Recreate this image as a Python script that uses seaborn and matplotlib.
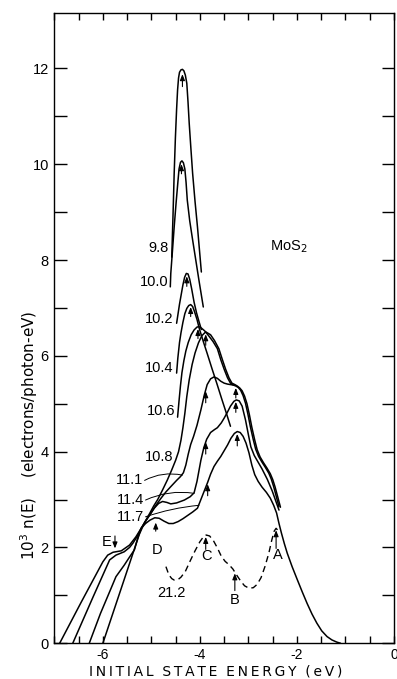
import matplotlib
matplotlib.use("Agg")
import matplotlib.pyplot as plt
from matplotlib.ticker import MultipleLocator, FixedLocator
import pandas as pd
import seaborn as sns

# Photoemission energy distributions of MoS2.
# Initial-state energy (eV) and yield 10^3 n(E) (electrons/photon-eV) for each photon energy.
e_98 = [-4.58, -4.555, -4.53, -4.505, -4.48, -4.46, -4.44, -4.42, -4.39, -4.36, -4.33, -4.30,
        -4.27, -4.245, -4.22, -4.185, -4.15, -4.10, -4.05, -4.01, -3.97]
n_98 = [8.06, 8.90, 9.81, 10.55, 11.15, 11.55, 11.80, 11.92, 11.97, 11.98, 11.95, 11.86,
        11.69, 11.30, 10.85, 10.32, 9.81, 9.22, 8.69, 8.22, 7.75]

e_100 = [-4.61, -4.60, -4.565, -4.53, -4.49, -4.45, -4.43, -4.40, -4.37, -4.34, -4.31, -4.285,
         -4.26, -4.21, -4.15, -4.085, -4.02, -3.975, -3.93]
n_100 = [7.44, 7.72, 8.20, 8.69, 9.20, 9.67, 9.90, 10.04, 10.07, 10.03, 9.90, 9.62,
         9.25, 8.82, 8.42, 8.00, 7.58, 7.30, 7.02]

e_102 = [-4.48, -4.45, -4.42, -4.385, -4.35, -4.315, -4.28, -4.245, -4.21, -4.17, -4.12, -4.07,
         -4.02, -3.97]
n_102 = [6.68, 6.88, 7.08, 7.28, 7.48, 7.64, 7.72, 7.71, 7.60, 7.40, 7.12, 6.90, 6.72, 6.55]

e_104 = [-4.48, -4.455, -4.42, -4.39, -4.35, -4.31, -4.27, -4.23, -4.19, -4.15, -4.11, -4.06,
         -4.01, -3.93, -3.85, -3.75, -3.65, -3.55, -3.46, -3.37]
n_104 = [5.64, 5.95, 6.28, 6.48, 6.70, 6.88, 6.99, 7.05, 7.07, 7.03, 6.92, 6.76,
         6.56, 6.30, 6.05, 5.73, 5.42, 5.10, 4.82, 4.53]

e_106 = [-4.46, -4.43, -4.40, -4.37, -4.33, -4.29, -4.24, -4.18, -4.12, -4.06, -4.02, -3.97,
         -3.90, -3.82, -3.73, -3.64, -3.57, -3.50, -3.43, -3.37, -3.31, -3.26, -3.21, -3.16,
         -3.11, -3.06, -3.01, -2.96, -2.90, -2.85, -2.79, -2.72, -2.65, -2.58, -2.53, -2.48,
         -2.43, -2.37]
n_106 = [4.72, 5.06, 5.38, 5.65, 5.90, 6.10, 6.28, 6.44, 6.54, 6.60, 6.61, 6.58,
         6.52, 6.42, 6.30, 6.15, 5.92, 5.72, 5.54, 5.43, 5.39, 5.37, 5.34, 5.28,
         5.17, 5.01, 4.78, 4.52, 4.25, 4.05, 3.90, 3.78, 3.67, 3.55, 3.43, 3.27,
         3.08, 2.85]

e_108 = [-6.00, -5.60, -5.25, -5.15, -5.03, -4.95, -4.87, -4.77, -4.67, -4.58, -4.50, -4.44,
         -4.39, -4.35, -4.31, -4.27, -4.22, -4.16, -4.10, -4.03, -3.96, -3.88, -3.78, -3.70,
         -3.61, -3.54, -3.47, -3.40, -3.34, -3.28, -3.23, -3.18, -3.13, -3.08, -3.03, -2.98,
         -2.93, -2.87, -2.82, -2.76, -2.69, -2.62, -2.55, -2.50, -2.45, -2.40, -2.34]
n_108 = [0.00, 1.21, 2.27, 2.50, 2.72, 2.87, 3.00, 3.20, 3.41, 3.62, 3.82, 4.00,
         4.24, 4.50, 4.80, 5.15, 5.50, 5.82, 6.06, 6.27, 6.42, 6.50, 6.44, 6.32,
         6.15, 5.93, 5.72, 5.54, 5.43, 5.40, 5.37, 5.33, 5.27, 5.16, 5.00, 4.77,
         4.51, 4.24, 4.04, 3.89, 3.77, 3.66, 3.54, 3.42, 3.26, 3.07, 2.84]

e_111 = [-6.28, -6.05, -5.85, -5.73, -5.56, -5.45, -5.35, -5.28, -5.21, -5.12, -5.02, -4.92,
         -4.80, -4.70, -4.60, -4.48, -4.40, -4.34, -4.29, -4.24, -4.19, -4.13, -4.06, -3.98,
         -3.91, -3.85, -3.78, -3.71, -3.64, -3.57, -3.50, -3.43, -3.37, -3.31]
n_111 = [0.00, 0.62, 1.10, 1.39, 1.63, 1.80, 1.95, 2.20, 2.40, 2.55, 2.70, 2.86,
         3.03, 3.16, 3.27, 3.40, 3.48, 3.56, 3.72, 3.95, 4.15, 4.32, 4.55, 4.87,
         5.18, 5.40, 5.52, 5.56, 5.53, 5.47, 5.43, 5.41, 5.40, 5.39]

e_114 = [-6.62, -6.20, -5.86, -5.73, -5.56, -5.45, -5.38, -5.28, -5.21, -5.10, -5.02, -4.94,
         -4.85, -4.77, -4.68, -4.60, -4.48, -4.32, -4.20, -4.12, -4.06, -3.98, -3.92, -3.86,
         -3.78, -3.70, -3.64, -3.56, -3.50, -3.43, -3.37, -3.30, -3.25, -3.19, -3.13, -3.06,
         -3.00, -2.95, -2.88, -2.80, -2.72, -2.61, -2.51, -2.44, -2.37]
n_114 = [0.00, 0.97, 1.74, 1.84, 1.91, 2.00, 2.09, 2.25, 2.40, 2.58, 2.70, 2.82,
         2.92, 2.96, 2.94, 2.91, 2.93, 2.99, 3.06, 3.14, 3.38, 3.82, 4.08, 4.26,
         4.40, 4.46, 4.50, 4.60, 4.70, 4.83, 4.95, 5.05, 5.08, 5.06, 4.95, 4.66,
         4.35, 4.10, 3.92, 3.78, 3.64, 3.42, 3.18, 2.98, 2.78]

e_117 = [-6.89, -6.45, -6.00, -5.90, -5.79, -5.62, -5.45, -5.32, -5.21, -5.12, -5.03, -4.93,
         -4.84, -4.74, -4.64, -4.55, -4.45, -4.35, -4.25, -4.15, -4.05, -3.98, -3.91, -3.84,
         -3.78, -3.71, -3.64, -3.57, -3.50, -3.43, -3.36, -3.29, -3.23, -3.17, -3.11, -3.05,
         -2.99, -2.93, -2.87, -2.80, -2.72, -2.63, -2.55, -2.48, -2.42, -2.37, -2.32, -2.26,
         -2.20, -2.10, -1.99, -1.89, -1.79, -1.69, -1.59, -1.49, -1.38, -1.28, -1.18, -1.10]
n_117 = [0.00, 0.85, 1.70, 1.84, 1.90, 1.93, 2.05, 2.22, 2.40, 2.50, 2.57, 2.62,
         2.61, 2.55, 2.50, 2.50, 2.54, 2.60, 2.67, 2.74, 2.82, 3.00, 3.18, 3.36,
         3.53, 3.69, 3.80, 3.90, 4.02, 4.14, 4.28, 4.38, 4.42, 4.40, 4.32, 4.18,
         3.98, 3.72, 3.52, 3.38, 3.26, 3.15, 3.03, 2.88, 2.72, 2.50, 2.30, 2.08,
         1.88, 1.60, 1.32, 1.07, 0.83, 0.61, 0.42, 0.26, 0.14, 0.07, 0.025, 0.00]

e_212 = [-4.70, -4.64, -4.58, -4.53, -4.45, -4.39, -4.30, -4.20, -4.10, -4.00, -3.93, -3.87,
         -3.80, -3.72, -3.64, -3.56, -3.48, -3.40, -3.32, -3.24, -3.16, -3.08, -2.99, -2.90,
         -2.82, -2.74, -2.66, -2.58, -2.52, -2.47, -2.43, -2.37]
n_212 = [1.60, 1.43, 1.35, 1.32, 1.33, 1.38, 1.50, 1.72, 1.93, 2.12, 2.22, 2.26,
         2.24, 2.14, 1.99, 1.82, 1.71, 1.64, 1.55, 1.42, 1.30, 1.20, 1.15, 1.16,
         1.23, 1.37, 1.60, 1.88, 2.15, 2.34, 2.40, 2.33]

photon_energies = ["9.8", "10.0", "10.2", "10.4", "10.6", "10.8", "11.1", "11.4", "11.7"]
solid_curves = [(e_98, n_98), (e_100, n_100), (e_102, n_102), (e_104, n_104), (e_106, n_106),
                (e_108, n_108), (e_111, n_111), (e_114, n_114), (e_117, n_117)]

# Label anchors: right edge of each photon-energy label
label_e = [-4.64, -4.64, -4.54, -4.54, -4.50, -4.54, -5.17, -5.15, -5.15]
label_n = [8.25, 7.54, 6.77, 5.75, 4.85, 3.89, 3.40, 2.99, 2.64]

# Leader lines from the 11.1 / 11.4 / 11.7 labels to their curves
leader_start = [(-5.14, 3.40), (-5.12, 2.99), (-5.12, 2.64)]
leader_end = [(-4.36, 3.51), (-4.12, 3.13), (-4.02, 2.88)]
leader_rad = [-0.18, -0.15, -0.06]

# Upward arrows marking structure (energy, tail, tip)
arrow_e = [-4.36, -4.38, -4.27, -4.19, -4.04, -3.88, -3.88, -3.26, -3.88, -3.26, -3.84, -3.23,
           -4.91, -3.88, -2.43, -3.28]
arrow_lo = [11.62, 9.80, 7.45, 6.82, 6.36, 6.22, 5.02, 5.12, 3.95, 4.82, 3.08, 4.12,
            2.34, 1.96, 1.98, 1.10]
arrow_hi = [11.88, 10.00, 7.66, 7.02, 6.56, 6.45, 5.26, 5.33, 4.20, 5.04, 3.32, 4.37,
            2.52, 2.22, 2.36, 1.46]

# Feature letters
feature_text = ["E", "D", "C", "B", "A", "21.2"]
feature_e = [-5.93, -4.885, -3.86, -3.28, -2.40, -4.58]
feature_n = [2.11, 1.95, 1.82, 0.90, 1.84, 1.05]

sns.set_theme(style="white")
plt.rcParams["font.family"] = ["Liberation Sans", "DejaVu Sans"]
plt.rcParams["axes.unicode_minus"] = False

solid = pd.concat(
    [pd.DataFrame({"hv": hv, "energy": e, "yield": n})
     for hv, (e, n) in zip(photon_energies, solid_curves)],
    ignore_index=True)
dashed = pd.DataFrame({"hv": "21.2", "energy": e_212, "yield": n_212})

fig = plt.figure(figsize=(3.97, 6.79), dpi=100)
ax = fig.add_axes([0.1368, 0.0526, 0.8557, 0.9278])

sns.lineplot(data=solid, x="energy", y="yield", units="hv", estimator=None, sort=False,
             color="black", lw=1.1, ax=ax, legend=False)
sns.lineplot(data=dashed, x="energy", y="yield", estimator=None, sort=False,
             color="black", lw=1.0, linestyle=(0, (4.5, 3.0)), ax=ax, legend=False)

ax.set_xlim(-7, 0)
ax.set_ylim(0, 13.15)

ax.xaxis.set_major_locator(FixedLocator([-6, -4, -2, 0]))
ax.xaxis.set_minor_locator(MultipleLocator(0.5))
ax.yaxis.set_major_locator(FixedLocator([0, 2, 4, 6, 8, 10, 12]))
ax.yaxis.set_minor_locator(FixedLocator([1, 3, 5, 7, 9, 11]))
ax.set_xticklabels(["-6", "-4", "-2", "0"])
ax.set_yticklabels(["0", "2", "4", "6", "8", "10", "12"])

ax.tick_params(axis="x", which="both", direction="in", bottom=True, top=True,
               length=5, width=1, colors="black", labelsize=10, pad=3.5)
ax.tick_params(axis="y", which="both", direction="in", left=True, right=True,
               length=9, width=1, colors="black", labelsize=10.5, pad=4)
for s in ax.spines.values():
    s.set_color("black")
    s.set_linewidth(1.0)

# widely spaced capitals for the energy axis title
spaced = "  ".join("\u2009".join(word) for word in ["INITIAL", "STATE", "ENERGY", "(eV)"])
ax.set_xlabel(spaced, fontsize=10, color="black", family=["DejaVu Sans"], va="center")
ax.xaxis.set_label_coords(0.475, -0.0445)
ax.set_ylabel(r"10$^3$ n(E)    (electrons/photon-eV)", fontsize=11, color="black",
              family=["DejaVu Sans"], va="center")
ax.yaxis.set_label_coords(-0.074, 0.33)

for t, e, n in zip(photon_energies, label_e, label_n):
    ax.text(e, n, t, ha="right", va="center", fontsize=10.5, color="black")

for (s, end, rad) in zip(leader_start, leader_end, leader_rad):
    ax.annotate("", xy=end, xytext=s,
                arrowprops=dict(arrowstyle="-", lw=0.7, color="black",
                                connectionstyle=f"arc3,rad={rad}", shrinkA=0, shrinkB=0))

for e, lo, hi in zip(arrow_e, arrow_lo, arrow_hi):
    ax.annotate("", xy=(e, hi), xytext=(e, lo),
                arrowprops=dict(arrowstyle="-|>,head_length=0.3,head_width=0.12",
                                lw=0.8, color="black", shrinkA=0, shrinkB=0))
# the E arrow points down onto the shoulder
ax.annotate("", xy=(-5.75, 1.98), xytext=(-5.75, 2.24),
            arrowprops=dict(arrowstyle="-|>,head_length=0.3,head_width=0.12",
                            lw=0.8, color="black", shrinkA=0, shrinkB=0))

for t, e, n in zip(feature_text, feature_e, feature_n):
    ax.text(e, n, t, ha="center", va="center", fontsize=10.5, color="black")

ax.text(-2.16, 8.27, r"MoS$_2$", ha="center", va="center", fontsize=10.5, color="black")

fig.savefig("out.png", dpi=100, facecolor="white")
